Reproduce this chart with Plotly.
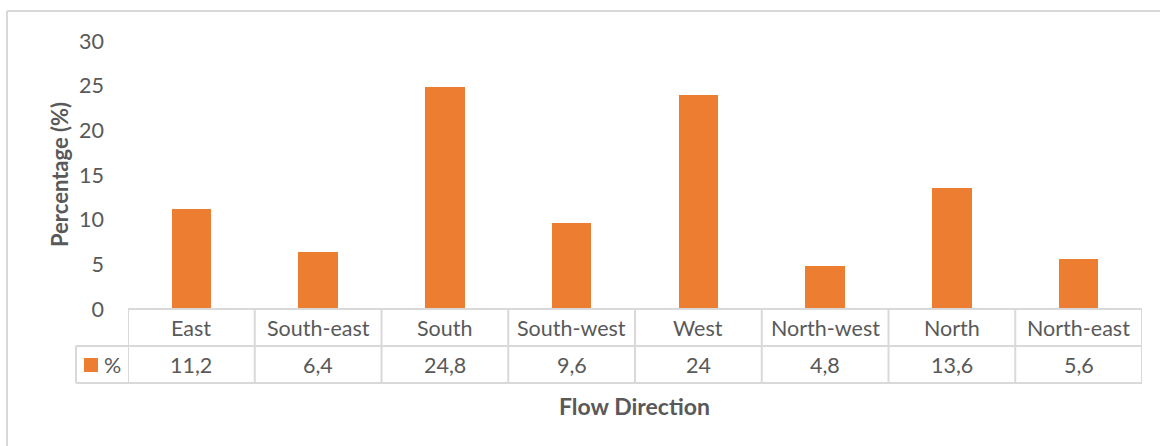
import plotly.graph_objects as go

# Flow direction distribution
directions = ["East", "South-east", "South", "South-west", "West", "North-west", "North", "North-east"]
percentages = [11.2, 6.4, 24.8, 9.6, 24, 4.8, 13.6, 5.6]
y_ticks = [0, 5, 10, 15, 20, 25, 30]
series_name = "%"

BAR_COLOR = "#ED7D31"
TEXT_COLOR = "#595959"
GRID_COLOR = "#D9D9D9"
FONT = "Lato"
TEXT_SIZE = 21.5

W, H = 1160, 446
M_L, M_R, M_T, M_B = 128, 18, 41, 137
plot_h = H - M_T - M_B
plot_w = W - M_L - M_R


def py(pixel_y):
    """Pixel row -> paper y."""
    return (H - M_B - pixel_y) / plot_h


def px(pixel_x):
    """Pixel column -> paper x."""
    return (pixel_x - M_L) / plot_w


fig = go.Figure(
    go.Bar(
        x=list(range(len(directions))),
        y=percentages,
        marker=dict(color=BAR_COLOR, line=dict(width=0)),
        width=0.313,
        name=series_name,
        showlegend=False,
    )
)

row1_top, row1_bot, row2_bot = 309, 346, 383
legend_left = 76
n = len(directions)
shapes = []
line = dict(color=GRID_COLOR, width=2)

# data table grid
shapes.append(dict(type="line", xref="x", yref="paper", x0=-0.5, x1=n - 0.5,
                   y0=py(row1_top), y1=py(row1_top), line=line))
for yy in (row1_bot, row2_bot):
    shapes.append(dict(type="line", xref="paper", yref="paper", x0=px(legend_left), x1=1,
                       y0=py(yy), y1=py(yy), line=line))
for i in range(n + 1):
    shapes.append(dict(type="line", xref="x", yref="paper", x0=i - 0.5, x1=i - 0.5,
                       y0=py(row1_top), y1=py(row2_bot), line=line))
shapes.append(dict(type="line", xref="paper", yref="paper", x0=px(legend_left), x1=px(legend_left),
                   y0=py(row1_bot), y1=py(row2_bot), line=line))

# legend key in the table
shapes.append(dict(type="rect", xref="paper", yref="paper", x0=px(84), x1=px(98),
                   y0=py(372), y1=py(358), fillcolor=BAR_COLOR, line=dict(width=0)))

# chart frame
shapes.append(dict(type="line", xref="paper", yref="paper", x0=px(7), x1=px(W + 5),
                   y0=py(11), y1=py(11), line=dict(color=GRID_COLOR, width=2)))
shapes.append(dict(type="line", xref="paper", yref="paper", x0=px(7), x1=px(7),
                   y0=py(11), y1=py(H + 5), line=dict(color=GRID_COLOR, width=2)))

annotations = []
cell_font = dict(family=FONT, size=TEXT_SIZE, color=TEXT_COLOR)
for i, (d, v) in enumerate(zip(directions, percentages)):
    annotations.append(dict(x=i, y=py((row1_top + row1_bot) / 2), xref="x", yref="paper",
                            text=d, showarrow=False, font=cell_font, yanchor="middle"))
    annotations.append(dict(x=i, y=py((row1_bot + row2_bot) / 2), xref="x", yref="paper",
                            text=f"{v:g}".replace(".", ","), showarrow=False, font=cell_font,
                            yanchor="middle"))
annotations.append(dict(x=px(102), y=py((row1_bot + row2_bot) / 2), xref="paper", yref="paper",
                        text=series_name, showarrow=False, font=cell_font, xanchor="left",
                        yanchor="middle"))

# axis titles
annotations.append(dict(x=px(634), y=py(406), xref="paper", yref="paper",
                        text="<b>Flow Direction</b>", showarrow=False,
                        font=dict(family=FONT, size=23, color=TEXT_COLOR), yanchor="middle"))
annotations.append(dict(x=px(59), y=py(175), xref="paper", yref="paper",
                        text="<b>Percentage (%)</b>", showarrow=False, textangle=-90,
                        font=dict(family=FONT, size=22, color=TEXT_COLOR),
                        xanchor="center", yanchor="middle"))

fig.update_layout(
    width=W, height=H,
    margin=dict(l=M_L, r=M_R, t=M_T, b=M_B),
    paper_bgcolor="white", plot_bgcolor="white",
    xaxis=dict(range=[-0.5, n - 0.5], showticklabels=False, showgrid=False,
               zeroline=False, showline=False, ticks=""),
    yaxis=dict(range=[0, 30], tickvals=y_ticks, showgrid=False, zeroline=False,
               showline=False, ticks="", ticklabelstandoff=23,
               tickfont=dict(family=FONT, size=TEXT_SIZE, color=TEXT_COLOR)),
    shapes=shapes,
    annotations=annotations,
    bargap=0,
)

fig.write_html("out.html")
